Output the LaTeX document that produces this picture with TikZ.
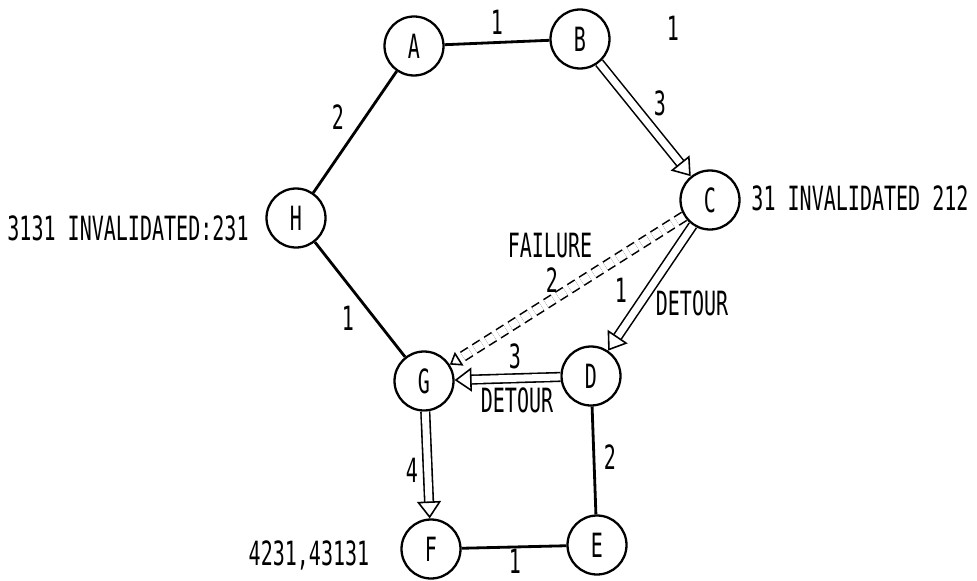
\documentclass[tikz,border=0pt]{standalone}
\usepackage{fontspec}
\setmainfont[FakeStretch=0.6]{DejaVu Sans Mono}
\usetikzlibrary{arrows.meta,positioning}

\begin{document}
\begin{tikzpicture}[x=0.02cm, y=-0.02cm,
    router/.style={circle, draw, line width=1.3pt, minimum size=1.18cm, inner sep=0pt, font=\fontsize{19}{21}\selectfont},
    link/.style={line width=1.6pt},
    detour/.style={double, double distance=4pt, line width=0.9pt, -{Triangle[open, length=0.34cm, width=0.48cm, line width=0.9pt]}},
    failure/.style={double, dash pattern=on 5pt off 3pt, double distance=4.5pt, line width=0.9pt, -{Triangle[open, length=0.22cm, width=0.32cm, line width=0.9pt]}},
    label/.style={font=\fontsize{19}{21}\selectfont, inner sep=1pt}
]
\useasboundingbox (0,0) rectangle (977,581);

% Routers
\node[router] (A) at (414, 46) {A};
\node[router] (B) at (580, 39) {B};
\node[router] (C) at (710, 200) {C};
\node[router] (H) at (296, 218) {H};
\node[router] (G) at (424, 381) {G};
\node[router] (D) at (591, 376) {D};
\node[router] (F) at (431, 549) {F};
\node[router] (E) at (597, 545) {E};

% Plain links
\draw[link] (A) -- (B);
\draw[link] (A) -- (H);
\draw[link] (H) -- (G);
\draw[link] (D) -- (E);
\draw[link] (F) -- (E);

% Failed link and detour path
\draw[failure] (C) -- (G);
\draw[detour] (B) -- (C);
\draw[detour] (C) -- (D);
\draw[detour] (D) -- (G);
\draw[detour] (G) -- (F);

% Link costs
\node[label] (cAB) at (497, 22) {1};
\node[label] (cAH) at (338, 117) {2};
\node[label] (cBC) at (660, 103) {3};
\node[label] (cHG) at (348, 318) {1};
\node[label] (cCD) at (621, 290) {1};
\node[label] (cCG) at (552, 280) {2};
\node[label] (cDG) at (515, 356) {3};
\node[label] (cDE) at (610, 457) {2};
\node[label] (cGF) at (412, 470) {4};
\node[label] (cFE) at (515, 561) {1};

% Annotations
\node[label] (fail) at (550, 246) {FAILURE};
\node[label] (detCD) at (692, 303) {DETOUR};
\node[label] (detDG) at (517, 400) {DETOUR};
\node[label] (infoB) at (673, 28) {1};
\node[label] (infoC) at (860, 198) {31 INVALIDATED 212};
\node[label] (infoH) at (128, 228) {3131 INVALIDATED:231};
\node[label] (infoF) at (309, 555) {4231,43131};

\end{tikzpicture}
\end{document}
